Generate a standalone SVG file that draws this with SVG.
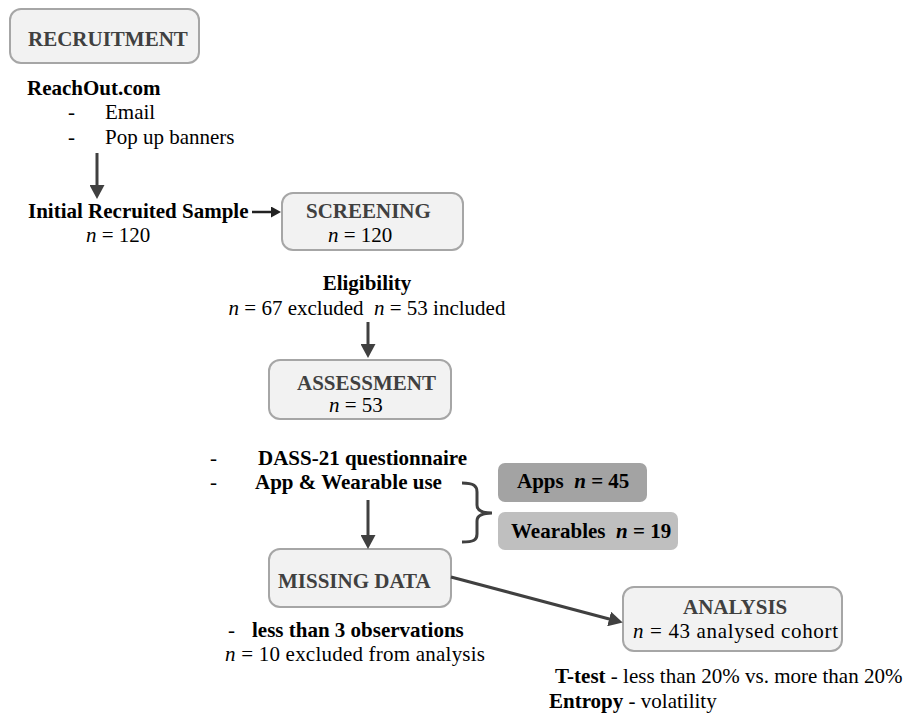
<svg xmlns="http://www.w3.org/2000/svg" width="912" height="715" viewBox="0 0 912 715">
<style>
text{font-family:"Liberation Serif","Times New Roman",serif;font-size:21px;fill:#000}
.h{font-weight:bold;fill:#404040}
.b{font-weight:bold}
.i{font-style:italic}
.pre{white-space:pre}
.box{fill:#f2f2f2;stroke:#a6a6a6;stroke-width:2}
.con{stroke:#404040;stroke-width:3;fill:none}
</style>
<defs>
<marker id="ah" markerUnits="userSpaceOnUse" markerWidth="15" markerHeight="15" refX="4" refY="7.5" orient="auto">
<path d="M0,0 L14,7.5 L0,15 z" fill="#404040"/>
</marker>
<marker id="ahs" markerUnits="userSpaceOnUse" markerWidth="11" markerHeight="11" refX="3" refY="5.5" orient="auto">
<path d="M0,0 L10,5.5 L0,11 z" fill="#222"/>
</marker>
</defs>
<rect width="912" height="715" fill="#fff"/>

<g id="recruitment">
<rect class="box" x="10" y="9" width="189" height="54" rx="11"/>
<text class="h" x="28" y="46">RECRUITMENT</text>
</g>
<g id="reachout">
<text class="b" x="27" y="95">ReachOut.com</text>
<text x="68" y="119">-</text><text x="105" y="119">Email</text>
<text x="68" y="144">-</text><text x="105" y="144">Pop up banners</text>
</g>
<g id="initial-sample">
<text class="b" x="28" y="218">Initial Recruited Sample</text>
<text x="86" y="242"><tspan class="i">n</tspan> = 120</text>
</g>
<g id="screening">
<rect class="box" x="282" y="193" width="181" height="57" rx="11"/>
<text class="h" x="306" y="218">SCREENING</text>
<text x="328" y="242"><tspan class="i">n</tspan> = 120</text>
</g>
<g id="eligibility">
<text class="b" x="367" y="290" text-anchor="middle">Eligibility</text>
<text class="pre" xml:space="preserve" x="367" y="315" text-anchor="middle"><tspan class="i">n</tspan> = 67 excluded  <tspan class="i">n</tspan> = 53 included</text>
</g>
<g id="assessment">
<rect class="box" x="269" y="360" width="182" height="59" rx="11"/>
<text class="h" x="297" y="390">ASSESSMENT</text>
<text x="329" y="412"><tspan class="i">n</tspan> = 53</text>
</g>
<g id="assessment-items">
<text x="210" y="465">-</text><text class="b" x="258" y="465">DASS-21 questionnaire</text>
<text x="210" y="489">-</text><text class="b" x="255" y="489">App &amp; Wearable use</text>
</g>
<g id="apps">
<rect x="498" y="463" width="149" height="39" rx="7" fill="#a3a3a3"/>
<text class="b pre" xml:space="preserve" x="517" y="488">Apps  <tspan class="i">n</tspan> = 45</text>
</g>
<g id="wearables">
<rect x="498" y="512" width="180" height="38" rx="7" fill="#bfbfbf"/>
<text class="b pre" xml:space="preserve" x="511" y="538">Wearables  <tspan class="i">n</tspan> = 19</text>
</g>
<g id="missing-data">
<rect class="box" x="269" y="549" width="182" height="58" rx="11"/>
<text class="h" x="278" y="588">MISSING DATA</text>
</g>
<g id="missing-notes">
<text x="228" y="637">-</text><text class="b" x="252" y="637">less than 3 observations</text>
<text x="225" y="661" textLength="260" lengthAdjust="spacing"><tspan class="i">n</tspan> = 10 excluded from analysis</text>
</g>
<g id="analysis">
<rect class="box" x="623" y="587" width="219" height="64" rx="11"/>
<text class="h" x="683" y="614">ANALYSIS</text>
<text x="633" y="638" textLength="205" lengthAdjust="spacing"><tspan class="i">n</tspan> = 43 analysed cohort</text>
</g>
<g id="analysis-notes">
<text x="555" y="683"><tspan class="b">T-test</tspan> - less than 20% vs. more than 20%</text>
<text x="549" y="708"><tspan class="b">Entropy</tspan> - volatility</text>
</g>

<g id="connectors">
<line class="con" x1="97" y1="153" x2="97" y2="189" marker-end="url(#ah)"/>
<line x1="252" y1="212" x2="274" y2="212" stroke="#222" stroke-width="2.5" marker-end="url(#ahs)"/>
<line class="con" x1="368" y1="322" x2="368" y2="348" marker-end="url(#ah)"/>
<line class="con" x1="368" y1="500" x2="368" y2="539" marker-end="url(#ah)"/>
<line class="con" x1="451" y1="577" x2="613" y2="620" marker-end="url(#ah)"/>
<path class="con" d="M462,483 C474,483 477,486 477,492 L477,505 C477,510 482,513 492,513 C482,513 477,516 477,521 L477,534 C477,540 474,542 462,542"/>
</g>
</svg>
